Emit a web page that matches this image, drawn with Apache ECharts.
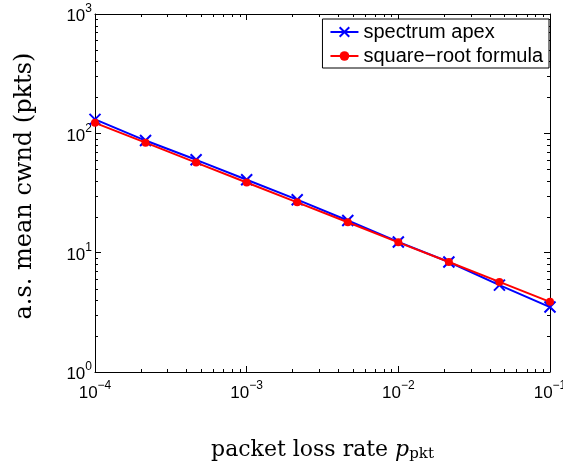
<!DOCTYPE html>
<html><head><meta charset="utf-8">
<script src="https://cdn.jsdelivr.net/npm/echarts@6/dist/echarts.min.js"></script>
<style>html,body{margin:0;padding:0;background:#fff}#c{width:563px;height:468px}</style>
</head><body><div id="c"></div>
<script>
var pLoss = [1e-4, 2.154e-4, 4.642e-4, 1e-3, 2.154e-3, 4.642e-3, 1e-2, 2.154e-2, 4.642e-2, 1e-1];
var apex = [131, 87, 60, 40.8, 27.8, 18.6, 12.3, 8.35, 5.35, 3.5];
var sqrtFormula = [122.5, 83.5, 56.9, 38.7, 26.4, 18.0, 12.2, 8.35, 5.69, 3.87];
var seriesNames = ['spectrum apex', 'square\u2212root formula'];
var xRange = [1e-4, 1e-1];
var yRange = [1, 1000];

function pairs(xs, ys){ return xs.map(function(x,i){ return [x, ys[i]]; }); }
function minorVals(lo, hi){
  var out = [];
  for (var e = Math.round(Math.log10(lo)); e < Math.round(Math.log10(hi)); e++)
    for (var m = 2; m <= 9; m++) out.push(m * Math.pow(10, e));
  return out;
}
var xMinor = minorVals(xRange[0], xRange[1]);
var yMinor = minorVals(yRange[0], yRange[1]);

function expLabel(v){
  var e = Math.round(Math.log10(v));
  return '{b|10}{e|' + String(e).replace('-', '\u2212') + '}';
}
var rich = {
  b: {fontSize: 17, fontFamily: 'Liberation Sans', color: '#000', verticalAlign: 'bottom'},
  e: {fontSize: 12, fontFamily: 'Liberation Sans', color: '#000', verticalAlign: 'bottom', padding: [0,0,10,0]}
};
var axisLine = {show: true, lineStyle: {color: '#000', width: 1}};
var tick = {show: true, inside: true, length: 6, lineStyle: {color: '#000'}};

var chart = echarts.init(document.getElementById('c'), null, {renderer: 'canvas'});
chart.setOption({
  animation: false,
  backgroundColor: '#fff',
  grid: {left: 95, right: 13, top: 14, bottom: 96, containLabel: false, outerBoundsMode: 'none'},
  legend: {
    data: seriesNames,
    orient: 'vertical',
    right: 14, top: 19,
    backgroundColor: '#fff',
    borderColor: '#000', borderWidth: 1, borderRadius: 0,
    padding: [3, 6, 2, 7],
    itemWidth: 28, itemHeight: 12, itemGap: 4,
    textStyle: {fontSize: 20, fontFamily: 'Liberation Sans', color: '#000'}
  },
  xAxis: [{
    type: 'log', logBase: 10, min: xRange[0], max: xRange[1],
    name: '{n|packet loss rate }{p|p}{s|pkt}',
    nameLocation: 'middle', nameGap: 67,
    nameTextStyle: {rich: {
      n: {fontSize: 22, fontFamily: 'DejaVu Serif', color: '#000'},
      p: {fontSize: 22, fontFamily: 'DejaVu Serif', fontStyle: 'italic', color: '#000'},
      s: {fontSize: 15, fontFamily: 'DejaVu Serif', color: '#000', padding: [8,0,0,0]}
    }},
    axisLine: axisLine, axisTick: tick, splitLine: {show: false},
    axisLabel: {formatter: expLabel, rich: rich, margin: 8, showMinLabel: true, showMaxLabel: true}
  }, {
    type: 'log', logBase: 10, min: xRange[0], max: xRange[1], position: 'top',
    axisLine: axisLine, axisTick: tick, splitLine: {show: false}, axisLabel: {show: false}
  }],
  yAxis: [{
    type: 'log', logBase: 10, min: yRange[0], max: yRange[1],
    name: 'a.s. mean cwnd (pkts)',
    nameLocation: 'middle', nameGap: 58, nameRotate: 90,
    nameTextStyle: {fontSize: 24, fontFamily: 'DejaVu Serif', color: '#000', padding: [0, 0, 0, 14]},
    axisLine: axisLine, axisTick: tick, splitLine: {show: false},
    axisLabel: {formatter: expLabel, rich: rich, margin: 3}
  }, {
    type: 'log', logBase: 10, min: yRange[0], max: yRange[1], position: 'right',
    axisLine: axisLine, axisTick: tick, splitLine: {show: false}, axisLabel: {show: false}
  }],
  series: [{
    type: 'custom', silent: true, z: 1,
    data: [[xRange[0], yRange[0]]],
    renderItem: function(params, api){
      var cs = params.coordSys, ch = [];
      var st = {stroke: '#000', lineWidth: 1};
      xMinor.forEach(function(v){
        var x = Math.round(api.coord([v, yRange[0]])[0]) + 0.5;
        ch.push({type:'line', shape:{x1:x,y1:cs.y+cs.height,x2:x,y2:cs.y+cs.height-3}, style:st});
        ch.push({type:'line', shape:{x1:x,y1:cs.y,x2:x,y2:cs.y+3}, style:st});
      });
      yMinor.forEach(function(v){
        var y = Math.round(api.coord([xRange[0], v])[1]) + 0.5;
        ch.push({type:'line', shape:{x1:cs.x,y1:y,x2:cs.x+3,y2:y}, style:st});
        ch.push({type:'line', shape:{x1:cs.x+cs.width,y1:y,x2:cs.x+cs.width-3,y2:y}, style:st});
      });
      return {type:'group', children: ch};
    }
  }, {
    name: seriesNames[0], type: 'line', z: 3,
    data: pairs(pLoss, apex),
    symbol: 'path://M0,0L10,10M10,0L0,10', symbolSize: 11,
    lineStyle: {color: '#0000ff', width: 2},
    itemStyle: {color: 'none', borderColor: '#0000ff', borderWidth: 2}
  }, {
    name: seriesNames[1], type: 'line', z: 4,
    data: pairs(pLoss, sqrtFormula),
    symbol: 'circle', symbolSize: 8,
    lineStyle: {color: '#ff0000', width: 2},
    itemStyle: {color: '#ff0000', borderWidth: 0}
  }]
});
</script></body></html>
